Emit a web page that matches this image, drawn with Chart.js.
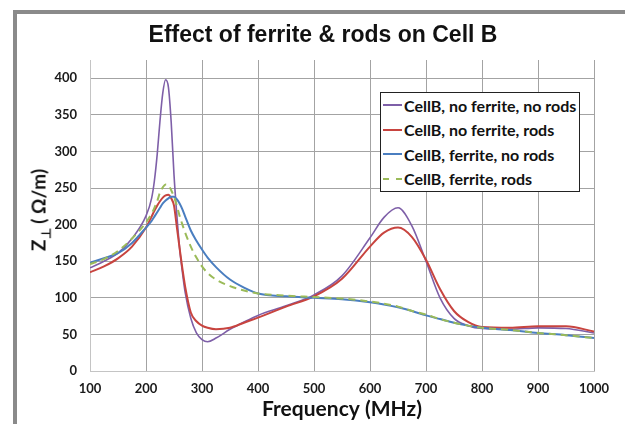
<!DOCTYPE html>
<html>
<head>
<meta charset="utf-8">
<script src="https://cdn.jsdelivr.net/npm/chart.js@4.4.1/dist/chart.umd.min.js"></script>
<style>
html,body{margin:0;padding:0;background:#fff;overflow:hidden;width:625px;height:424px;position:relative;}
#frame{position:absolute;left:13px;top:10px;width:700px;height:500px;border-left:4px solid #8a8a8a;border-top:4px solid #8a8a8a;}
#c{position:absolute;left:0;top:0;}
#title{position:absolute;left:0;width:646px;top:21px;line-height:23px;text-align:center;font:bold 23px "Liberation Sans",Arial,sans-serif;color:#111;white-space:nowrap;}
#ytitle{position:absolute;left:40px;top:210px;transform:translate(-50%,-50%) rotate(-90deg);font:bold 19px Lato,sans-serif;color:#111;white-space:nowrap;}
#ytitle sub{font-size:13px;vertical-align:-5px;}
#legend{position:absolute;left:380px;top:92px;width:200px;height:100px;box-sizing:border-box;border:1.5px solid #222;background:#fff;}
.row{height:24.5px;display:flex;align-items:center;font:bold 16px Lato,sans-serif;color:#111;white-space:nowrap;}
.sw{width:19px;height:0;margin-left:2px;margin-right:2px;border-top-width:2px;border-top-style:solid;}
</style>
</head>
<body>
<div id="frame"></div>
<canvas id="c" width="625" height="424"></canvas>
<div id="title">Effect of ferrite &amp; rods on Cell B</div>
<div id="ytitle">Z<sub>⊥</sub> ( Ω/m)</div>
<div id="legend"></div>
<script>
const freqs = [100,125,150,175,200,210,215,220,225,230,235,240,245,250,255,260,265,270,280,290,300,310,325,350,375,400,450,500,550,600,625,650,675,700,725,750,775,800,850,900,950,1000];
const noFerriteNoRods = [141,150,161,181,212,236,260,296,342,380,398,388,340,268,214,168,135,107,72,52,43,40,45,57,67,76,89,104,130,182,210,223,198,150,100,72,62,58,57,59,58,52];
const noFerriteRods   = [135,143,154,170,196,211,219,226,232,237,240,241,236,226,197,168,140,115,80,68,62,59,57,59,66,73,88,102,126,170,189,196,183,152,112,82,67,60,59,61,61,54];
const ferriteNoRods   = [148,154,161,175,196,205,211,217,223,229,233,236,238,238,235,229,221,211,192,178,166,155,142,125,114,106,102,100,98,94,91,87,82,76,71,66,62,59,56,52,49,45];
const ferriteRods     = [146,153,164,181,203,215,223,232,244,251,255,254,247,238,226,212,200,189,170,155,143,134,125,116,110,106,103,101,99,95,92,88,82,77,71,66,62,59,56,52,49,45];
const seriesNames = ['CellB, no ferrite, no rods','CellB, no ferrite, rods','CellB, ferrite, no rods','CellB, ferrite, rods'];
const xTicks = [100,200,300,400,500,600,700,800,900,1000];
const yTicks = [0,50,100,150,200,250,300,350,400];

const pts = arr => arr.map((v,i)=>({x:freqs[i], y:v}));
const tickFont = {family:'Lato', weight:'bold', size:13};

const datasets = [
  {label:seriesNames[0], data:pts(noFerriteNoRods), borderColor:'#7E5FA8', borderWidth:1.6, order:4},
  {label:seriesNames[1], data:pts(noFerriteRods), borderColor:'#C8443F', borderWidth:2, order:3},
  {label:seriesNames[2], data:pts(ferriteNoRods), borderColor:'#4A7EC0', borderWidth:2, order:2},
  {label:seriesNames[3], data:pts(ferriteRods), borderColor:'#9BBB59', borderWidth:2, borderDash:[7,5], order:1}
].map(d=>Object.assign({pointRadius:0, fill:false, cubicInterpolationMode:'monotone'}, d));

const chart = new Chart(document.getElementById('c'), {
  type:'line',
  data:{datasets},
  options:{
    responsive:false, animation:false,
    layout:{padding:{left:0,right:31,top:60,bottom:0}},
    plugins:{legend:{display:false}, title:{display:false}, tooltip:{enabled:false}},
    scales:{
      x:{type:'linear', min:xTicks[0], max:xTicks[xTicks.length-1],
        afterBuildTicks(s){ s.ticks = xTicks.map(v=>({value:v})); },
        ticks:{padding:10, font:tickFont, color:'#1a1a1a', maxRotation:0, autoSkip:false, callback:v=>String(v)},
        grid:{color:'#a3a3a3', drawTicks:false, lineWidth:1},
        border:{color:'#c4c4c4'},
        title:{display:true, text:'Frequency (MHz)', font:{family:'Lato', weight:'bold', size:21}, color:'#111', padding:{top:0,bottom:2}},
        afterFit(s){ s.height = 53; }
      },
      y:{min:0, max:425,
        afterBuildTicks(s){ s.ticks = yTicks.map(v=>({value:v})); },
        ticks:{padding:13, font:tickFont, color:'#1a1a1a', autoSkip:false, callback:v=>String(v)},
        grid:{color:'#a3a3a3', drawTicks:false, lineWidth:1},
        border:{color:'#c4c4c4'},
        afterFit(s){ s.width = 90; }
      }
    }
  }
});

const lg = document.getElementById('legend');
chart.data.datasets.forEach(ds=>{
  const row = document.createElement('div'); row.className='row';
  const sw = document.createElement('span'); sw.className='sw';
  sw.style.borderTopColor = ds.borderColor;
  if (ds.borderDash) sw.style.borderTopStyle = 'dashed';
  const tx = document.createElement('span'); tx.textContent = ds.label;
  row.appendChild(sw); row.appendChild(tx); lg.appendChild(row);
});
</script>
</body>
</html>
